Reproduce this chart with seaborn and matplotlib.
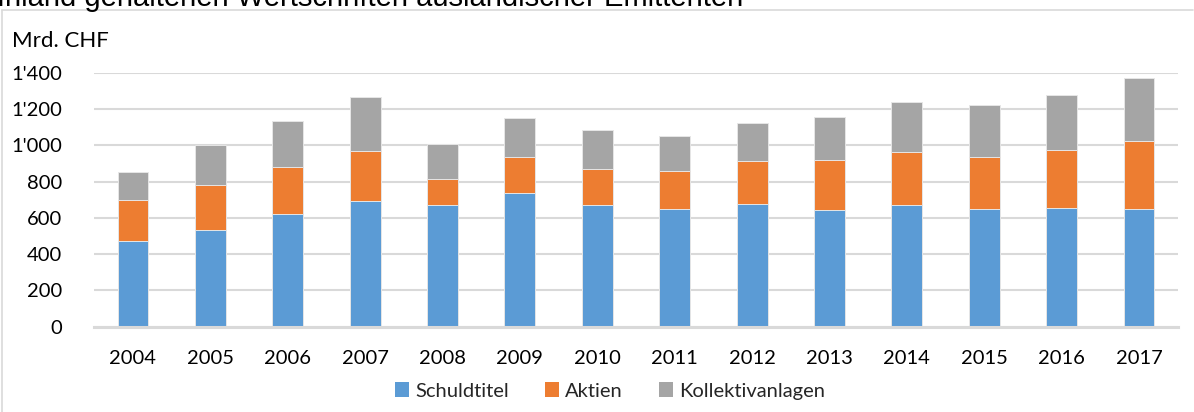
import matplotlib
matplotlib.use("Agg")
import matplotlib.pyplot as plt
from matplotlib.patches import Patch
from matplotlib.lines import Line2D
import seaborn as sns
import pandas as pd
import numpy as np

# ---- data ----
years = ["2004", "2005", "2006", "2007", "2008", "2009", "2010",
         "2011", "2012", "2013", "2014", "2015", "2016", "2017"]
schuldtitel = [471, 531, 620, 691, 669, 739, 669, 649, 675, 643, 669, 647, 653, 647]
aktien = [227, 250, 262, 277, 143, 198, 202, 208, 237, 276, 294, 287, 319, 375]
kollektivanlagen = [156, 221, 254, 300, 197, 212, 215, 194, 209, 235, 274, 286, 307, 351]
series_names = ["Schuldtitel", "Aktien", "Kollektivanlagen"]
colors = ["#5B9BD5", "#ED7D31", "#A5A5A5"]
yticks = [0, 200, 400, 600, 800, 1000, 1200, 1400]
ytick_labels = ["0", "200", "400", "600", "800", "1'000", "1'200", "1'400"]
unit_label = "Mrd. CHF"
title_text = "Inland gehaltenen Wertschriften ausländischer Emittenten"

sns.set_theme(style="white")
plt.rcParams["font.family"] = ["Lato", "DejaVu Sans"]

W, H = 1194, 412
fig = plt.figure(figsize=(W / 100, H / 100), dpi=100)
ax_left, ax_right = 94.3, 1177.7
ax_bottom, ax_top = 326.7, 72.7
ax = fig.add_axes([ax_left / W, 1 - ax_bottom / H,
                   (ax_right - ax_left) / W, (ax_bottom - ax_top) / H])

df = pd.DataFrame({"year": years, "Schuldtitel": schuldtitel,
                   "Aktien": aktien, "Kollektivanlagen": kollektivanlagen})
df["c1"] = df["Schuldtitel"]
df["c2"] = df["c1"] + df["Aktien"]
df["c3"] = df["c2"] + df["Kollektivanlagen"]

for col, colr in [("c3", colors[2]), ("c2", colors[1]), ("c1", colors[0])]:
    sns.barplot(data=df, x="year", y=col, color=colr, width=0.4,
                edgecolor="#E6E6E6", linewidth=0.7, saturation=1, ax=ax,
                zorder=3)

ax.set_xlim(-0.5, len(years) - 0.5)
ax.set_ylim(0, 1400)
ax.set_yticks(yticks)
ax.set_yticklabels(ytick_labels)
ax.set_xlabel("")
ax.set_ylabel("")
ax.yaxis.grid(True, color="#D9D9D9", linewidth=1.5, zorder=0)
ax.set_axisbelow(True)
for s in ["top", "right", "left"]:
    ax.spines[s].set_visible(False)
ax.spines["bottom"].set_color("#D9D9D9")
ax.spines["bottom"].set_linewidth(2.2)
ax.spines["bottom"].set_zorder(4)
ax.tick_params(axis="y", length=0, pad=23, labelsize=14.5, labelcolor="#000000")
ax.tick_params(axis="x", length=0, pad=17, labelsize=14.5, labelcolor="#000000")

# unit label
fig.text(12 / W, 1 - 46.7 / H, unit_label, fontsize=16, ha="left",
         va="baseline", color="#000000")

# chart frame
frame_col = "#D9D9D9"
fig.add_artist(Line2D([2 / W, 1193 / W], [1 - 10 / H, 1 - 10 / H],
                      color=frame_col, lw=1.2, transform=fig.transFigure))
fig.add_artist(Line2D([2 / W, 2 / W], [0, 1 - 10 / H],
                      color=frame_col, lw=1.2, transform=fig.transFigure))

# title (partly cut off at the top edge, as in the reference)
fig.text(-3 / W, 1 - 6.5 / H, title_text, fontsize=21, ha="left",
         va="baseline", color="#000000", family=["Liberation Sans", "DejaVu Sans"])

# legend
handles = [Patch(facecolor=c, edgecolor="none") for c in colors]
fig.legend(handles, series_names, loc="center", ncol=3,
           bbox_to_anchor=(610 / W, 1 - 391 / H), frameon=False,
           fontsize=14.5, handlelength=0.7, handleheight=0.7,
           handletextpad=0.3, columnspacing=1.8)

fig.savefig("out.png", dpi=100)
